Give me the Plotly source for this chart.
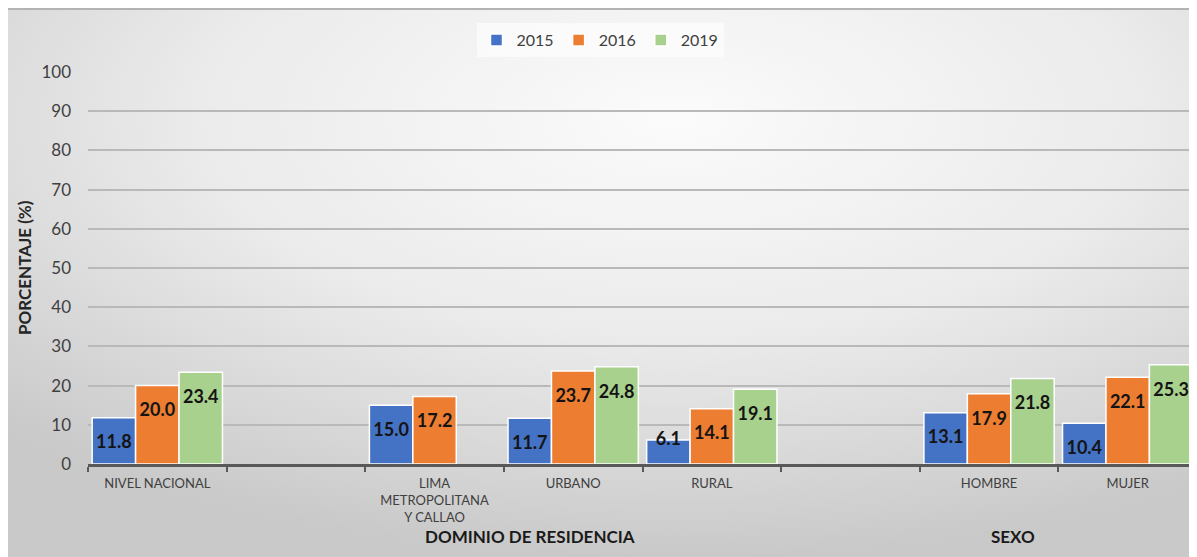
import base64
import plotly.graph_objects as go

categories = [
    "NIVEL NACIONAL",
    " ",
    "LIMA<br>METROPOLITANA<br>Y CALLAO",
    "URBANO",
    "RURAL",
    "  ",
    "HOMBRE",
    "MUJER",
]
years = ["2015", "2016", "2019"]
v2015 = [11.8, None, 15.0, 11.7, 6.1, None, 13.1, 10.4]
v2016 = [20.0, None, 17.2, 23.7, 14.1, None, 17.9, 22.1]
v2019 = [23.4, None, None, 24.8, 19.1, None, 21.8, 25.3]
colors = ["#4472C4", "#ED7D31", "#A9D18E"]
y_ticks = [0, 10, 20, 30, 40, 50, 60, 70, 80, 90, 100]
group_labels = ["DOMINIO DE RESIDENCIA", "SEXO"]

# the page body adds an 8px offset; work in screen pixels and convert
OFF = 8
W, H = 1197 - OFF, 557 - OFF
L, T = 88 - OFF, 72 - OFF
R = 0
B = H - (464 - OFF)
pw = W - L - R
ph = H - T - B


def px_x(p):
    return (p - OFF - L) / pw


def px_y(p):
    return (H - B - (p - OFF)) / ph


fig = go.Figure()
for i, (name, vals, col) in enumerate(zip(years, [v2015, v2016, v2019], colors)):
    fig.add_trace(go.Bar(
        x=categories, y=vals, name=name,
        offsetgroup=str(i), alignmentgroup="a",
        marker=dict(color=col, line=dict(color="white", width=1.5)),
        hoverinfo="skip",
    ))
for i, (name, vals) in enumerate(zip(years, [v2015, v2016, v2019])):
    # value labels, placed just inside the top of each bar
    positions = ["bottom center" if (v is not None and v > 8) else "middle center"
                 for v in vals]
    fig.add_trace(go.Scatter(
        x=categories, y=vals, mode="markers+text", showlegend=False,
        offsetgroup=str(i), alignmentgroup="a",
        text=[None if v is None else f"{v:.1f}" for v in vals],
        textposition=positions,
        marker=dict(size=26, color="rgba(0,0,0,0)"),
        textfont=dict(family="Lato", size=18, color="#141414", weight="bold"),
        hoverinfo="skip", cliponaxis=False,
    ))

svg = (
    '<svg xmlns="http://www.w3.org/2000/svg" width="1190" height="550" '
    'preserveAspectRatio="none" viewBox="0 0 1190 550">'
    '<defs><radialGradient id="g" cx="0.56" cy="0.2" r="0.8" '
    'gradientUnits="objectBoundingBox">'
    '<stop offset="0" stop-color="#fbfbfb"/>'
    '<stop offset="0.5" stop-color="#ebebeb"/>'
    '<stop offset="1" stop-color="#c9c9c9"/>'
    '</radialGradient></defs>'
    '<rect x="0" y="0" width="1190" height="550" fill="url(#g)"/></svg>'
)
src = "data:image/svg+xml;base64," + base64.b64encode(svg.encode()).decode()

fig.add_layout_image(dict(
    source=src, xref="paper", yref="paper",
    x=px_x(OFF), y=px_y(OFF), sizex=W / pw, sizey=H / ph,
    xanchor="left", yanchor="top", sizing="stretch", layer="below",
))

fig.add_shape(type="line", xref="paper", yref="paper",
              x0=px_x(OFF), x1=px_x(1197), y0=px_y(OFF + 1), y1=px_y(OFF + 1),
              line=dict(color="#b3b3b3", width=2))

fig.update_layout(
    width=W, height=H,
    margin=dict(l=L, r=R, t=T, b=B, pad=0),
    paper_bgcolor="white",
    plot_bgcolor="rgba(0,0,0,0)",
    barmode="group",
    scattermode="group",
    bargap=0.06,
    scattergap=0.06,
    bargroupgap=0,
    font=dict(family="Lato", color="#404040"),
    showlegend=True,
    hovermode=False,
    legend=dict(
        orientation="h", x=px_x(600), y=px_y(40),
        xanchor="center", yanchor="middle",
        bgcolor="rgba(255,255,255,0.6)",
        font=dict(family="Lato", size=16, color="#404040"),
        itemwidth=30,
    ),
    xaxis=dict(
        type="category",
        categoryorder="array", categoryarray=categories,
        tickson="boundaries", ticks="outside", ticklen=5,
        tickcolor="#595959", tickwidth=2,
        showline=True, linecolor="#595959", linewidth=2.5,
        showgrid=False, zeroline=False,
        ticklabelstandoff=6,
        tickfont=dict(family="Lato", size=13, color="#404040"),
    ),
    yaxis=dict(
        range=[0, 100], tickvals=y_ticks,
        showgrid=True, gridcolor="#b9b9b9", gridwidth=1.5,
        zeroline=False, showline=False, ticks="",
        ticklabelstandoff=16,
        tickfont=dict(family="Lato", size=17, color="#404040"),
    ),
    annotations=[
        dict(text="<b>PORCENTAJE (%)</b>", xref="paper", yref="paper",
             x=px_x(24), y=0.5, textangle=-90, showarrow=False,
             font=dict(family="Lato", size=17, color="#262626"),
             xanchor="center", yanchor="middle"),
        dict(text="<b>" + group_labels[0] + "</b>", xref="paper", yref="paper",
             x=px_x(530), y=px_y(536), showarrow=False,
             font=dict(family="Lato", size=17, color="#1a1a1a"),
             xanchor="center", yanchor="middle"),
        dict(text="<b>" + group_labels[1] + "</b>", xref="paper", yref="paper",
             x=px_x(1013), y=px_y(536), showarrow=False,
             font=dict(family="Lato", size=17, color="#1a1a1a"),
             xanchor="center", yanchor="middle"),
    ],
)

fig.write_html("out.html")
